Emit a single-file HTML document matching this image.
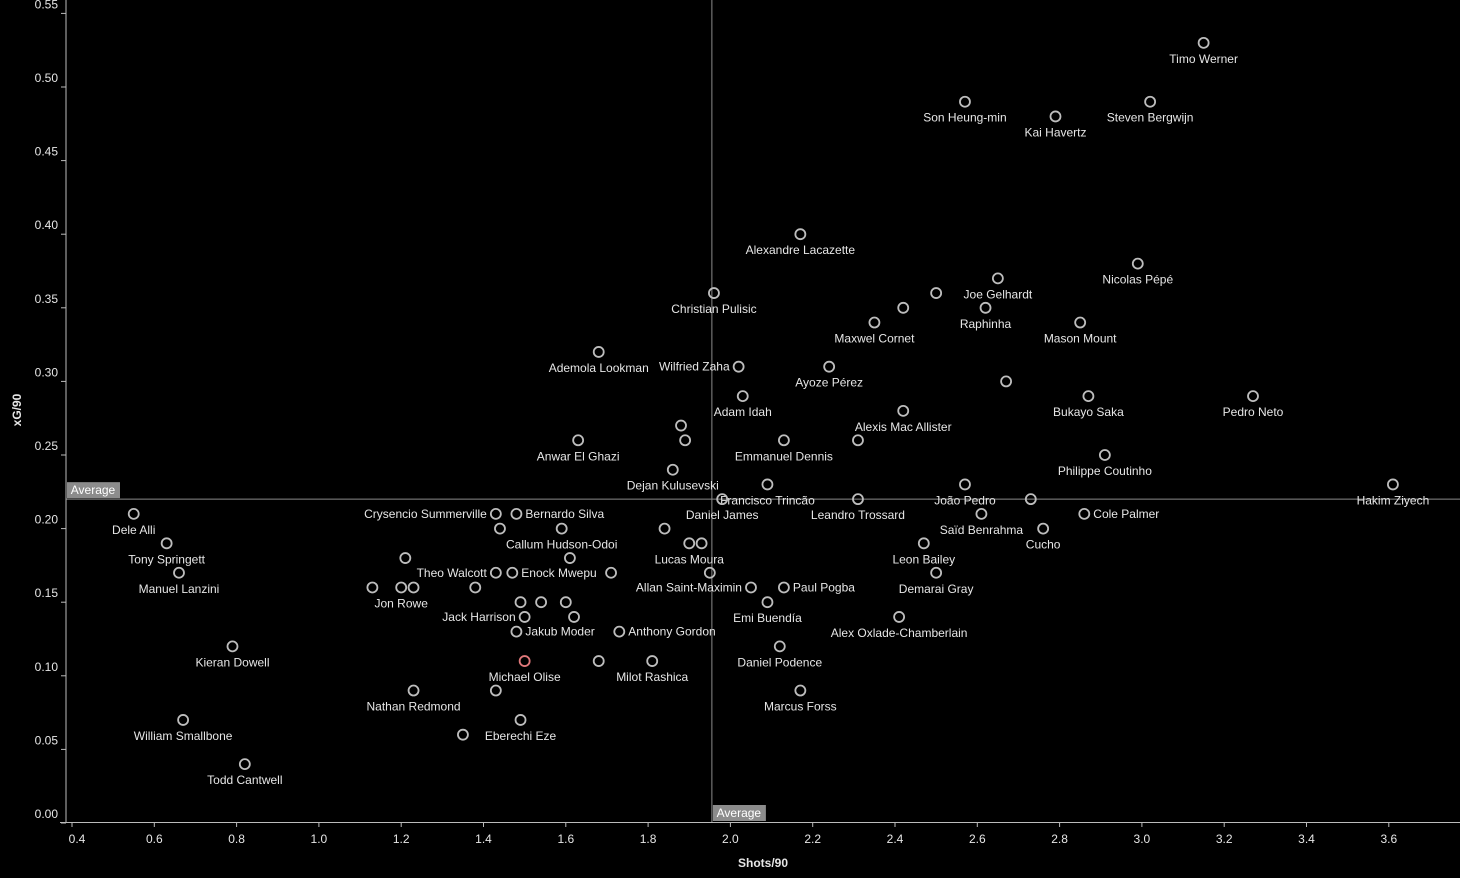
<!DOCTYPE html>
<html><head><meta charset="utf-8"><style>
html,body{margin:0;padding:0;background:#000;}
svg{display:block;font-family:"Liberation Sans",sans-serif;}
</style></head><body>
<svg id="chart" width="1460" height="878" viewBox="0 0 1460 878">
<rect x="0" y="0" width="1460" height="878" fill="#000"/>
<g id="grid"></g><g id="marks"></g><g id="axes"></g>
</svg>
<script>
const players = ["Timo Werner","Son Heung-min","Kai Havertz","Steven Bergwijn","Alexandre Lacazette","Nicolas Pépé","Joe Gelhardt","","Raphinha","Christian Pulisic","Maxwel Cornet","","Mason Mount","Ademola Lookman","Wilfried Zaha","Ayoze Pérez","","Adam Idah","Bukayo Saka","Pedro Neto","Alexis Mac Allister","","Anwar El Ghazi","","Emmanuel Dennis","","Philippe Coutinho","Dejan Kulusevski","Francisco Trincão","João Pedro","Hakim Ziyech","Daniel James","Leandro Trossard","","Crysencio Summerville","Bernardo Silva","Saïd Benrahma","Cole Palmer","Dele Alli","","Callum Hudson-Odoi","","Cucho","Tony Springett","","Lucas Moura","Leon Bailey","","","Manuel Lanzini","Theo Walcott","Enock Mwepu","","","Demarai Gray","","Jon Rowe","","","Allan Saint-Maximin","Paul Pogba","","","","Emi Buendía","Jack Harrison","","Alex Oxlade-Chamberlain","Jakub Moder","Anthony Gordon","Kieran Dowell","Daniel Podence","Michael Olise","","Milot Rashica","Nathan Redmond","","Marcus Forss","William Smallbone","Eberechi Eze","","Todd Cantwell"];
const shots = [3.15,2.57,2.79,3.02,2.17,2.99,2.65,2.50,2.62,1.96,2.35,2.42,2.85,1.68,2.02,2.24,2.67,2.03,2.87,3.27,2.42,1.88,1.63,1.89,2.13,2.31,2.91,1.86,2.09,2.57,3.61,1.98,2.31,2.73,1.43,1.48,2.61,2.86,0.55,1.44,1.59,1.84,2.76,0.63,1.93,1.90,2.47,1.21,1.61,0.66,1.43,1.47,1.71,1.95,2.50,1.13,1.20,1.23,1.38,2.05,2.13,1.49,1.54,1.60,2.09,1.50,1.62,2.41,1.48,1.73,0.79,2.12,1.50,1.68,1.81,1.23,1.43,2.17,0.67,1.49,1.35,0.82];
const xg = [0.53,0.49,0.48,0.49,0.40,0.38,0.37,0.36,0.35,0.36,0.34,0.35,0.34,0.32,0.31,0.31,0.30,0.29,0.29,0.29,0.28,0.27,0.26,0.26,0.26,0.26,0.25,0.24,0.23,0.23,0.23,0.22,0.22,0.22,0.21,0.21,0.21,0.21,0.21,0.20,0.20,0.20,0.20,0.19,0.19,0.19,0.19,0.18,0.18,0.17,0.17,0.17,0.17,0.17,0.17,0.16,0.16,0.16,0.16,0.16,0.16,0.15,0.15,0.15,0.15,0.14,0.14,0.14,0.13,0.13,0.12,0.12,0.11,0.11,0.11,0.09,0.09,0.09,0.07,0.07,0.06,0.04];
const leftLabels = ["Crysencio Summerville","Theo Walcott","Allan Saint-Maximin","Jack Harrison","Wilfried Zaha"];
const rightLabels = ["Bernardo Silva","Enock Mwepu","Paul Pogba","Jakub Moder","Anthony Gordon","Cole Palmer"];
const xTicks = [0.4,0.6,0.8,1.0,1.2,1.4,1.6,1.8,2.0,2.2,2.4,2.6,2.8,3.0,3.2,3.4,3.6];
const yTicks = [0,0.05,0.10,0.15,0.20,0.25,0.30,0.35,0.40,0.45,0.50,0.55];
const avgShots = 1.955;
const avgXg = 0.22;
const highlight = "Michael Olise";

const NS="http://www.w3.org/2000/svg";
function xs(v){return 72+(v-0.4)*411.5;}
function ys(v){return 823-v*1472;}
function mk(tag,attrs,parent,text){const e=document.createElementNS(NS,tag);for(const k in attrs)e.setAttribute(k,attrs[k]);if(text!==undefined)e.textContent=text;parent.appendChild(e);return e;}
const grid=document.getElementById('grid'),marks=document.getElementById('marks'),axes=document.getElementById('axes');

// average lines
let l=mk('line',{x1:66,x2:1460,y1:ys(avgXg),y2:ys(avgXg),stroke:'#8a8a8a','stroke-width':1},grid);


l=mk('line',{x1:xs(avgShots),x2:xs(avgShots),y1:0,y2:822,stroke:'#8a8a8a','stroke-width':1},grid);


let b=mk('rect',{x:67,y:ys(avgXg)-17,width:53,height:16,fill:'#8c8c8c'},grid);


let t=mk('text',{x:93,y:ys(avgXg)-5,fill:'#fff','font-size':12,'text-anchor':'middle'},grid,'Average');


b=mk('rect',{x:xs(avgShots)+1,y:805,width:53,height:16,fill:'#8c8c8c'},grid);


t=mk('text',{x:xs(avgShots)+27,y:817,fill:'#fff','font-size':12,'text-anchor':'middle'},grid,'Average');



// points
for(let i=0;i<shots.length;i++){
  const cx=xs(shots[i]),cy=ys(xg[i]);
  const c=mk('circle',{cx:cx,cy:cy,r:5,fill:'none',stroke:players[i]===highlight?'#e0787a':'#bdbdbd','stroke-width':1.8},marks);
  
  
  const n=players[i];
  if(!n)continue;
  let lx=cx,ly=cy+20,anc='middle';
  if(leftLabels.includes(n)){lx=cx-9;ly=cy+4;anc='end';}
  else if(rightLabels.includes(n)){lx=cx+9;ly=cy+4;anc='start';}
  const tx=mk('text',{x:lx,y:ly,fill:'#e6e6e6','font-size':12,'text-anchor':anc},marks,n);
  
  
}

// axes
l=mk('line',{x1:66,x2:66,y1:0,y2:823,stroke:'#bbb','stroke-width':1},axes);


l=mk('line',{x1:60,x2:1460,y1:822.5,y2:822.5,stroke:'#bbb','stroke-width':1},axes);


xTicks.forEach(v=>{
  const tk=mk('line',{x1:xs(v),x2:xs(v),y1:823,y2:827,stroke:'#bbb'},axes);
  
  
  const tl=mk('text',{x:xs(v)+(v===0.4?5:0),y:843,fill:'#e6e6e6','font-size':12,'text-anchor':'middle'},axes,v.toFixed(1));
  
  
});
yTicks.forEach(v=>{
  const tk=mk('line',{x1:61,x2:66,y1:ys(v),y2:ys(v),stroke:'#bbb'},axes);
  
  
  const tl=mk('text',{x:58,y:ys(v)-5,fill:'#e6e6e6','font-size':12,'text-anchor':'end'},axes,v.toFixed(2));
  
  
});
t=mk('text',{x:763,y:867,fill:'#e6e6e6','font-size':12,'font-weight':'bold','text-anchor':'middle'},axes,'Shots/90');


t=mk('text',{x:21,y:410,fill:'#e6e6e6','font-size':12,'font-weight':'bold','text-anchor':'middle',transform:'rotate(-90 21 410)'},axes,'xG/90');


</script>
</body></html>
